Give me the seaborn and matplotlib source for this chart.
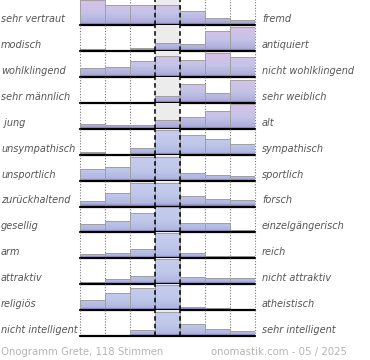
import numpy as np
import matplotlib
matplotlib.use('Agg')
import matplotlib.pyplot as plt
import seaborn as sns
import pandas as pd
from matplotlib.colors import LinearSegmentedColormap

# ---- data ----
scale = ['1', '2', '3', '4', '5', '6', '7']
left_labels = ['sehr vertraut', 'modisch', 'wohlklingend', 'sehr männlich', ' jung',
               'unsympathisch', 'unsportlich', 'zurückhaltend', 'gesellig', 'arm',
               'attraktiv', 'religiös', 'nicht intelligent']
right_labels = ['fremd', 'antiquiert', 'nicht wohlklingend', 'sehr weiblich', 'alt',
                'sympathisch', 'sportlich', 'forsch', 'einzelgängerisch', 'reich',
                'nicht attraktiv', 'atheistisch', 'sehr intelligent']
r_vertraut = [25, 20, 20, 20, 14.3, 6.7, 5]
r_modisch = [2, 0, 3, 8, 7, 20, 24]
r_wohlkl = [9.3, 10, 16, 20.7, 17.3, 24, 20]
r_maennl = [0, 0, 0.5, 7, 19.3, 10, 23.3]
r_jung = [4.3, 3.3, 4, 8.6, 12, 17.6, 25]
r_unsymp = [2.7, 0, 6.7, 24.3, 20, 15.7, 10.7]
r_unsport = [12, 13.3, 23.7, 23.7, 7.7, 6, 4.3]
r_zurueck = [6, 14, 24, 24, 10.3, 7.3, 7]
r_gesellig = [8.3, 11.6, 19, 25, 9.5, 9.5, 2.5]
r_arm = [4, 5.7, 9, 25, 5.7, 2, 2.3]
r_attraktiv = [2.6, 5, 8.3, 25, 7.6, 6.6, 6.6]
r_religioes = [10.3, 16.7, 21.7, 25, 3.3, 1.7, 1]
r_intell = [0.5, 0.5, 5.7, 24, 11.7, 7.3, 5]
rows = [r_vertraut, r_modisch, r_wohlkl, r_maennl, r_jung, r_unsymp, r_unsport,
        r_zurueck, r_gesellig, r_arm, r_attraktiv, r_religioes, r_intell]
footer_left = 'Onogramm Grete, 118 Stimmen'
footer_right = 'onomastik.com - 05 / 2025'

sns.set_theme(style='white')
plt.rcParams['font.family'] = ['DejaVu Sans']

W, H = 370, 360
fig = plt.figure(figsize=(W / 100, H / 100), dpi=100)
X0, X1 = 80, 255
ROW = 25.9
BASE0 = 25.2

pink = LinearSegmentedColormap.from_list(
    'pink', [(0, '#8e80c4'), (0.1, '#aeaedc'), (0.45, '#c4c4e8'), (1, '#dcc0e6')])
blue = LinearSegmentedColormap.from_list(
    'blue', [(0, '#8e80c4'), (0.1, '#b0b8e2'), (0.45, '#c0c8ea'), (1, '#c6ccec')])
grad = np.linspace(0, 1, 64).reshape(-1, 1)

for i, vals in enumerate(rows):
    base = BASE0 + i * ROW
    ax = fig.add_axes([X0 / W, 1 - base / H, (X1 - X0) / W, ROW / H])
    ax.set_facecolor('none')
    df = pd.DataFrame({'pos': scale, 'val': vals})
    sns.barplot(data=df, x='pos', y='val', ax=ax, width=1.0, color='#c0c8e8',
                edgecolor='#a0a0a0', linewidth=0.7, zorder=2.2)
    cmap = pink if i < 5 else blue
    for p in list(ax.patches):
        x0 = p.get_x()
        w = p.get_width()
        im = ax.imshow(grad, extent=[x0, x0 + w, 0, ROW], origin='lower', aspect='auto',
                       cmap=cmap, vmin=0, vmax=1, zorder=2.1, interpolation='bilinear')
        im.set_clip_path(p)
        p.set_facecolor('none')
    ax.set_xlim(-0.5, 6.5)
    ax.set_ylim(0, ROW)
    ax.axvspan(2.5, 3.5, color='#ececec', zorder=0, lw=0)
    for xv in [-0.5, 0.5, 1.5, 4.5, 5.5, 6.5]:
        ax.axvline(xv, color='#777777', ls=(0, (1, 1.5)), lw=0.8, zorder=1, clip_on=False)
    for xv in [2.5, 3.5]:
        ax.axvline(xv, color='black', ls=(0, (3, 2)), lw=1.1, zorder=3)
    ax.axhline(0, color='black', lw=1.6, zorder=4, clip_on=False)
    for s in ax.spines.values():
        s.set_visible(False)
    ax.set_xticks([])
    ax.set_yticks([])
    ax.set_xlabel('')
    ax.set_ylabel('')
    fig.text(1 / W, 1 - (base - 6.0) / H, left_labels[i], ha='left', va='center',
             style='italic', color='#555555', fontsize=7)
    fig.text(262 / W, 1 - (base - 6.0) / H, right_labels[i], ha='left', va='center',
             style='italic', color='#555555', fontsize=7)

fig.text(1 / W, 1 - 352 / H, footer_left, ha='left', va='center', color='#b4b4b4', fontsize=7.3)
fig.text(347 / W, 1 - 352 / H, footer_right, ha='right', va='center', color='#b4b4b4', fontsize=7.3)

fig.savefig('out.png', dpi=100)
